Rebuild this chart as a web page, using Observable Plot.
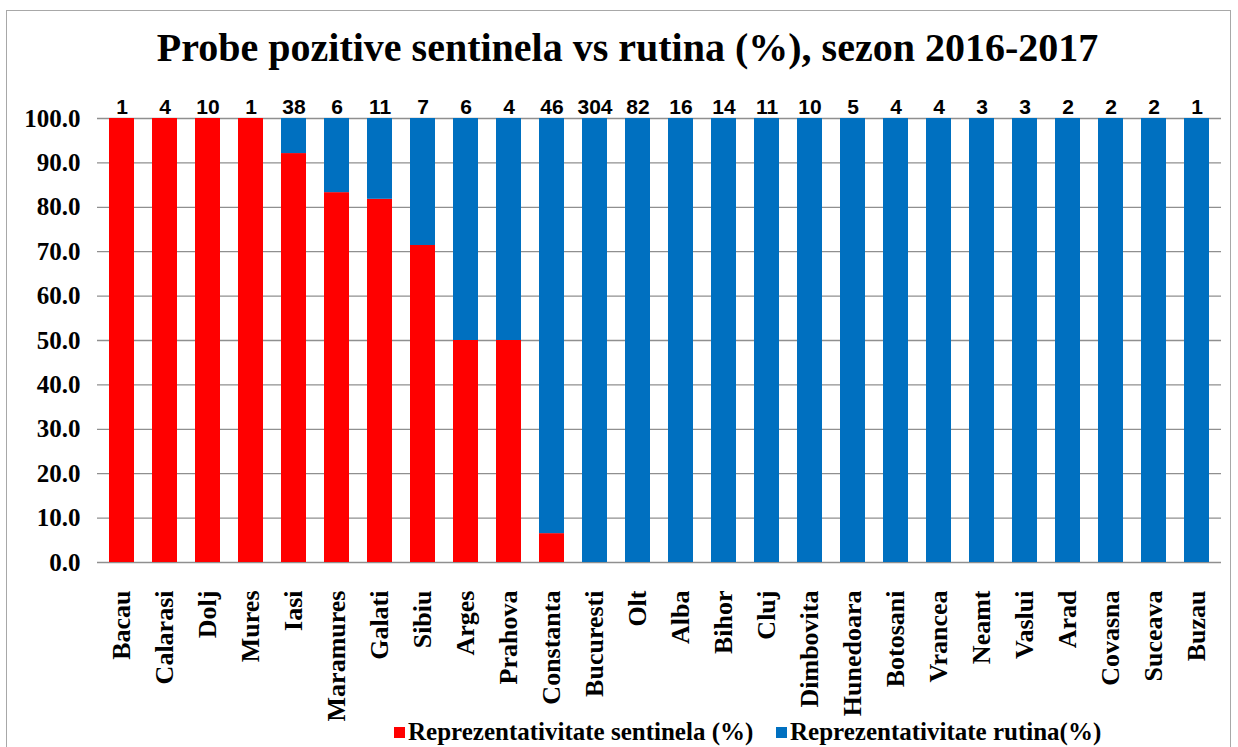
<!DOCTYPE html>
<html>
<head>
<meta charset="utf-8">
<script src="https://cdn.jsdelivr.net/npm/d3@7"></script>
<script src="https://cdn.jsdelivr.net/npm/@observablehq/plot@0.6"></script>
<style>
  html, body { margin: 0; padding: 0; background: #fff; }
  #wrap { position: relative; width: 1238px; height: 747px; overflow: hidden; background: #fff; }
  #frame { position: absolute; left: 6px; top: 10px; width: 1225px; height: 760px; border: 1px solid #a8a8a8; box-sizing: border-box; }
  #title { position: absolute; left: 0; top: 28px; width: 1255px; text-align: center; font: bold 40px/40px "Liberation Serif", "Times New Roman", serif; color: #000; white-space: nowrap; }
  #chart { position: absolute; left: 0; top: 0; }
  .leg { position: absolute; top: 720px; display: flex; align-items: center; font: bold 25px/24px "Liberation Serif", "Times New Roman", serif; color: #000; white-space: nowrap; }
  .sw { width: 11px; height: 11px; margin-right: 3px; }
</style>
</head>
<body>
<div id="wrap">
  <div id="frame"></div>
  <div id="chart"></div>
  <div id="title"></div>
  <div id="legend"></div>
</div>
<script>
const titleText = "Probe pozitive sentinela vs rutina (%), sezon 2016-2017";
const counties = ["Bacau","Calarasi","Dolj","Mures","Iasi","Maramures","Galati","Sibiu","Arges","Prahova","Constanta","Bucuresti","Olt","Alba","Bihor","Cluj","Dimbovita","Hunedoara","Botosani","Vrancea","Neamt","Vaslui","Arad","Covasna","Suceava","Buzau"];
const sentinela = [100,100,100,100,92.1,83.3,81.8,71.4,50,50,6.5,0,0,0,0,0,0,0,0,0,0,0,0,0,0,0];
const rutina = [0,0,0,0,7.9,16.7,18.2,28.6,50,50,93.5,100,100,100,100,100,100,100,100,100,100,100,100,100,100,100];
const counts = [1,4,10,1,38,6,11,7,6,4,46,304,82,16,14,11,10,5,4,4,3,3,2,2,2,1];
const seriesNames = ["Reprezentativitate sentinela (%)", "Reprezentativitate rutina(%)"];
const seriesColors = ["#FF0000", "#0070C0"];
const yTicks = [0,10,20,30,40,50,60,70,80,90,100];

const rows = [];
counties.forEach((c, i) => {
  rows.push({county: c, series: seriesNames[0], value: sentinela[i]});
  rows.push({county: c, series: seriesNames[1], value: rutina[i]});
});
const countRows = counties.map((c, i) => ({county: c, n: counts[i]}));

const serif = "'Liberation Serif', 'Times New Roman', serif";
const chart = Plot.plot({
  width: 1238,
  height: 747,
  marginLeft: 97,
  marginRight: 17,
  marginTop: 118,
  marginBottom: 185,
  style: {background: "transparent", fontFamily: serif, color: "#000"},
  x: {domain: counties, paddingInner: 0.42, paddingOuter: 0.21, label: null},
  y: {domain: [0, 100], label: null},
  color: {domain: seriesNames, range: seriesColors},
  marks: [
    Plot.ruleY(yTicks, {stroke: "#8f8f8f", strokeWidth: 1.3}),
    Plot.barY(rows, {x: "county", y: "value", fill: "series"}),
    Plot.text(countRows, {x: "county", y: () => 100, text: d => String(d.n), lineAnchor: "bottom", dy: -5,
      fontSize: 21, fontWeight: "bold", fontFamily: "'Liberation Sans', Arial, sans-serif", fill: "#000"}),
    Plot.axisY({ticks: yTicks, tickFormat: d => d.toFixed(1), tickSize: 0, tickPadding: 17, label: null,
      fontSize: 25, fontWeight: "bold", fontFamily: serif, fill: "#000"}),
    Plot.axisX({tickRotate: -90, tickSize: 0, tickPadding: 28, label: null,
      fontSize: 26, fontWeight: "bold", fontFamily: serif, fill: "#000"})
  ]
});
document.getElementById("chart").appendChild(chart);
document.getElementById("title").textContent = titleText;

const legend = document.getElementById("legend");
const legLeft = [394, 776];
seriesNames.forEach((s, i) => {
  const item = document.createElement("div");
  item.className = "leg";
  item.style.left = legLeft[i] + "px";
  const sw = document.createElement("span");
  sw.className = "sw";
  sw.style.background = seriesColors[i];
  const t = document.createElement("span");
  t.textContent = s;
  item.appendChild(sw);
  item.appendChild(t);
  legend.appendChild(item);
});
</script>
</body>
</html>
